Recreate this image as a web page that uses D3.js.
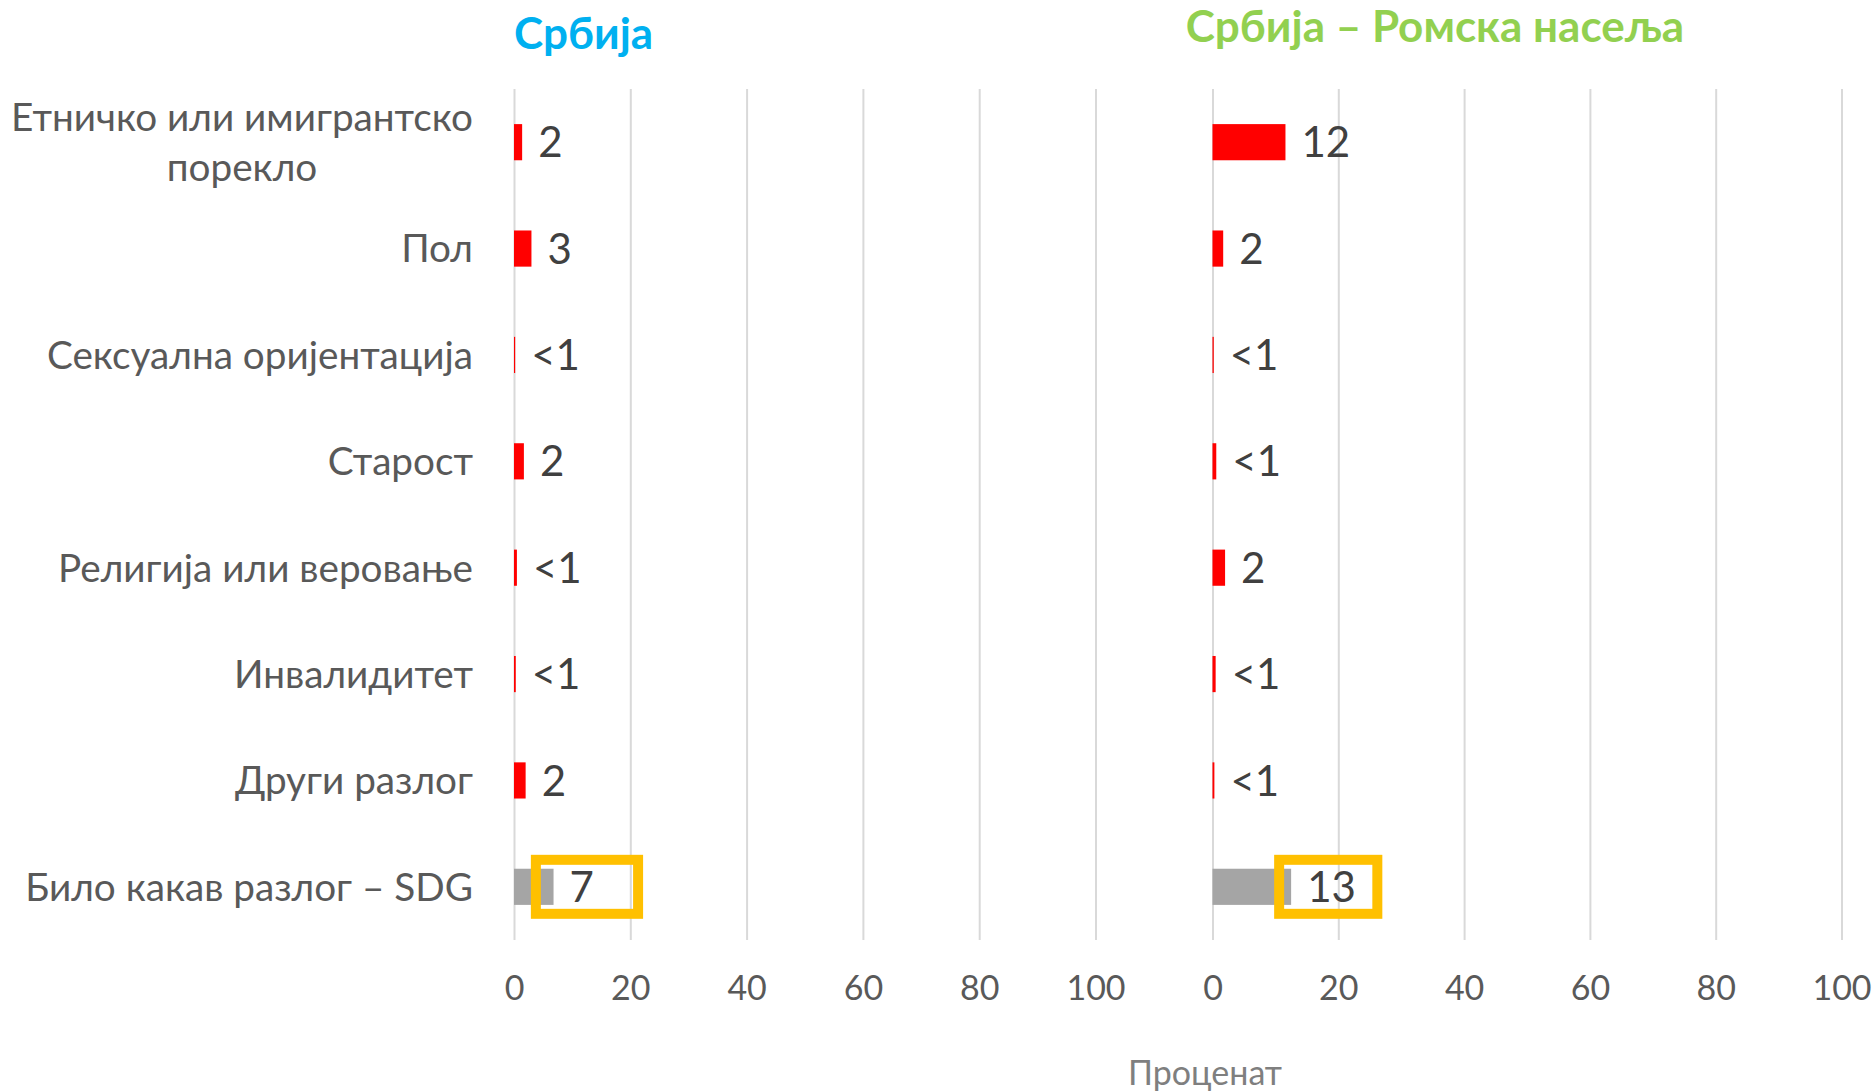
<!DOCTYPE html>
<html>
<head>
<meta charset="utf-8">
<script src="https://cdn.jsdelivr.net/npm/d3@7"></script>
<style>
  body { margin: 0; background: #fff; }
  text { font-family: Lato, "Open Sans", sans-serif; }
</style>
</head>
<body>
<script>
// categories (top to bottom)
var categories = [
    ["Етничко или имигрантско", "порекло"],
    ["Пол"],
    ["Сексуална оријентација"],
    ["Старост"],
    ["Религија или веровање"],
    ["Инвалидитет"],
    ["Други разлог"],
    ["Било какав разлог – SDG"]
];

// Србија
var serbiaValues = [1.4, 3.0, 0.2, 1.7, 0.5, 0.3, 2.0, 6.8];
var serbiaLabels = ["2", "3", "<1", "2", "<1", "<1", "2", "7"];

// Србија – Ромска насеља
var romaValues = [11.6, 1.7, 0.2, 0.6, 2.0, 0.5, 0.3, 12.5];
var romaLabels = ["12", "2", "<1", "<1", "2", "<1", "<1", "13"];

var tickValues = [0, 20, 40, 60, 80, 100];
var axisTitle = "Проценат";

var W = 1875, H = 1092;
var plotTop = 89, plotBottom = 940;

var svg = d3.select("body").append("svg")
    .attr("width", W)
    .attr("height", H);

var y = d3.scaleBand()
    .domain(d3.range(categories.length))
    .range([plotTop, plotBottom])
    .paddingInner(0.66)
    .paddingOuter(0.33);

var panels = [
    { title: "Србија", color: "#00B0F0", values: serbiaValues, labels: serbiaLabels,
      range: [514, 1095.5], titleX: 514, titleY: 49, anchor: "start", box: [2.9, 22.2] },
    { title: "Србија – Ромска насеља", color: "#92D050", values: romaValues, labels: romaLabels,
      range: [1212.5, 1841.5], titleX: 1435, titleY: 42, anchor: "middle", box: [9.8, 27.0] }
];

panels.forEach(function (p) {
    var x = d3.scaleLinear().domain([0, 100]).range(p.range);
    var g = svg.append("g");

    // gridlines + tick labels
    var axis = g.append("g")
        .attr("transform", "translate(0," + plotBottom + ")")
        .call(d3.axisBottom(x).tickValues(tickValues).tickSize(-(plotBottom - plotTop)).tickFormat(d3.format("d")));
    axis.select(".domain").remove();
    axis.selectAll(".tick line").attr("stroke", "#D9D9D9").attr("stroke-width", 2);
    axis.selectAll(".tick text")
        .attr("y", 48)
        .attr("dy", "0.35em")
        .attr("fill", "#595959")
        .style("font-size", "34px");

    // bars
    g.selectAll("rect.bar")
        .data(p.values)
        .enter()
        .append("rect")
        .attr("class", "bar")
        .attr("x", x(0))
        .attr("y", function (d, i) { return y(i); })
        .attr("width", function (d) { return x(d) - x(0); })
        .attr("height", y.bandwidth())
        .attr("fill", function (d, i) { return i == categories.length - 1 ? "#A5A5A5" : "#FF0000"; });

    // data labels
    g.selectAll("text.val")
        .data(p.values)
        .enter()
        .append("text")
        .attr("class", "val")
        .attr("x", function (d) { return x(d) + 16; })
        .attr("y", function (d, i) { return y(i) + y.bandwidth() / 2; })
        .attr("dy", "0.36em")
        .attr("fill", "#404040")
        .style("font-size", "42px")
        .text(function (d, i) { return p.labels[i]; });

    // highlight box round the SDG value
    var last = categories.length - 1;
    var cy = y(last) + y.bandwidth() / 2;
    g.append("rect")
        .attr("x", x(p.box[0]) + 5)
        .attr("y", cy - 32 + 5)
        .attr("width", x(p.box[1]) - x(p.box[0]) - 10)
        .attr("height", 64 - 10)
        .attr("fill", "none")
        .attr("stroke", "#FFC000")
        .attr("stroke-width", 10);

    // panel title
    g.append("text")
        .attr("x", p.titleX)
        .attr("y", p.titleY)
        .attr("text-anchor", p.anchor)
        .attr("fill", p.color)
        .style("font-size", "44px")
        .style("font-weight", "bold")
        .text(p.title);
});

// category labels
var labelRight = 473;
categories.forEach(function (lines, i) {
    var cy = y(i) + y.bandwidth() / 2;
    var t = svg.append("text")
        .attr("fill", "#595959")
        .style("font-size", "38.7px");
    if (lines.length == 1) {
        t.attr("x", labelRight).attr("y", cy).attr("dy", "0.36em")
            .attr("text-anchor", "end").text(lines[0]);
    } else {
        var first = t.append("tspan").text(lines[0]);
        var w = first.node().getComputedTextLength();
        var mid = labelRight - w / 2;
        t.attr("text-anchor", "middle");
        first.attr("x", mid).attr("y", cy - 25).attr("dy", "0.36em");
        t.append("tspan").attr("x", mid).attr("y", cy + 25).attr("dy", "0.36em").text(lines[1]);
    }
});

// axis title
svg.append("text")
    .attr("x", 1205)
    .attr("y", 1073)
    .attr("dy", "0.36em")
    .attr("text-anchor", "middle")
    .attr("fill", "#7F7F7F")
    .style("font-size", "34px")
    .text(axisTitle);
</script>
</body>
</html>
